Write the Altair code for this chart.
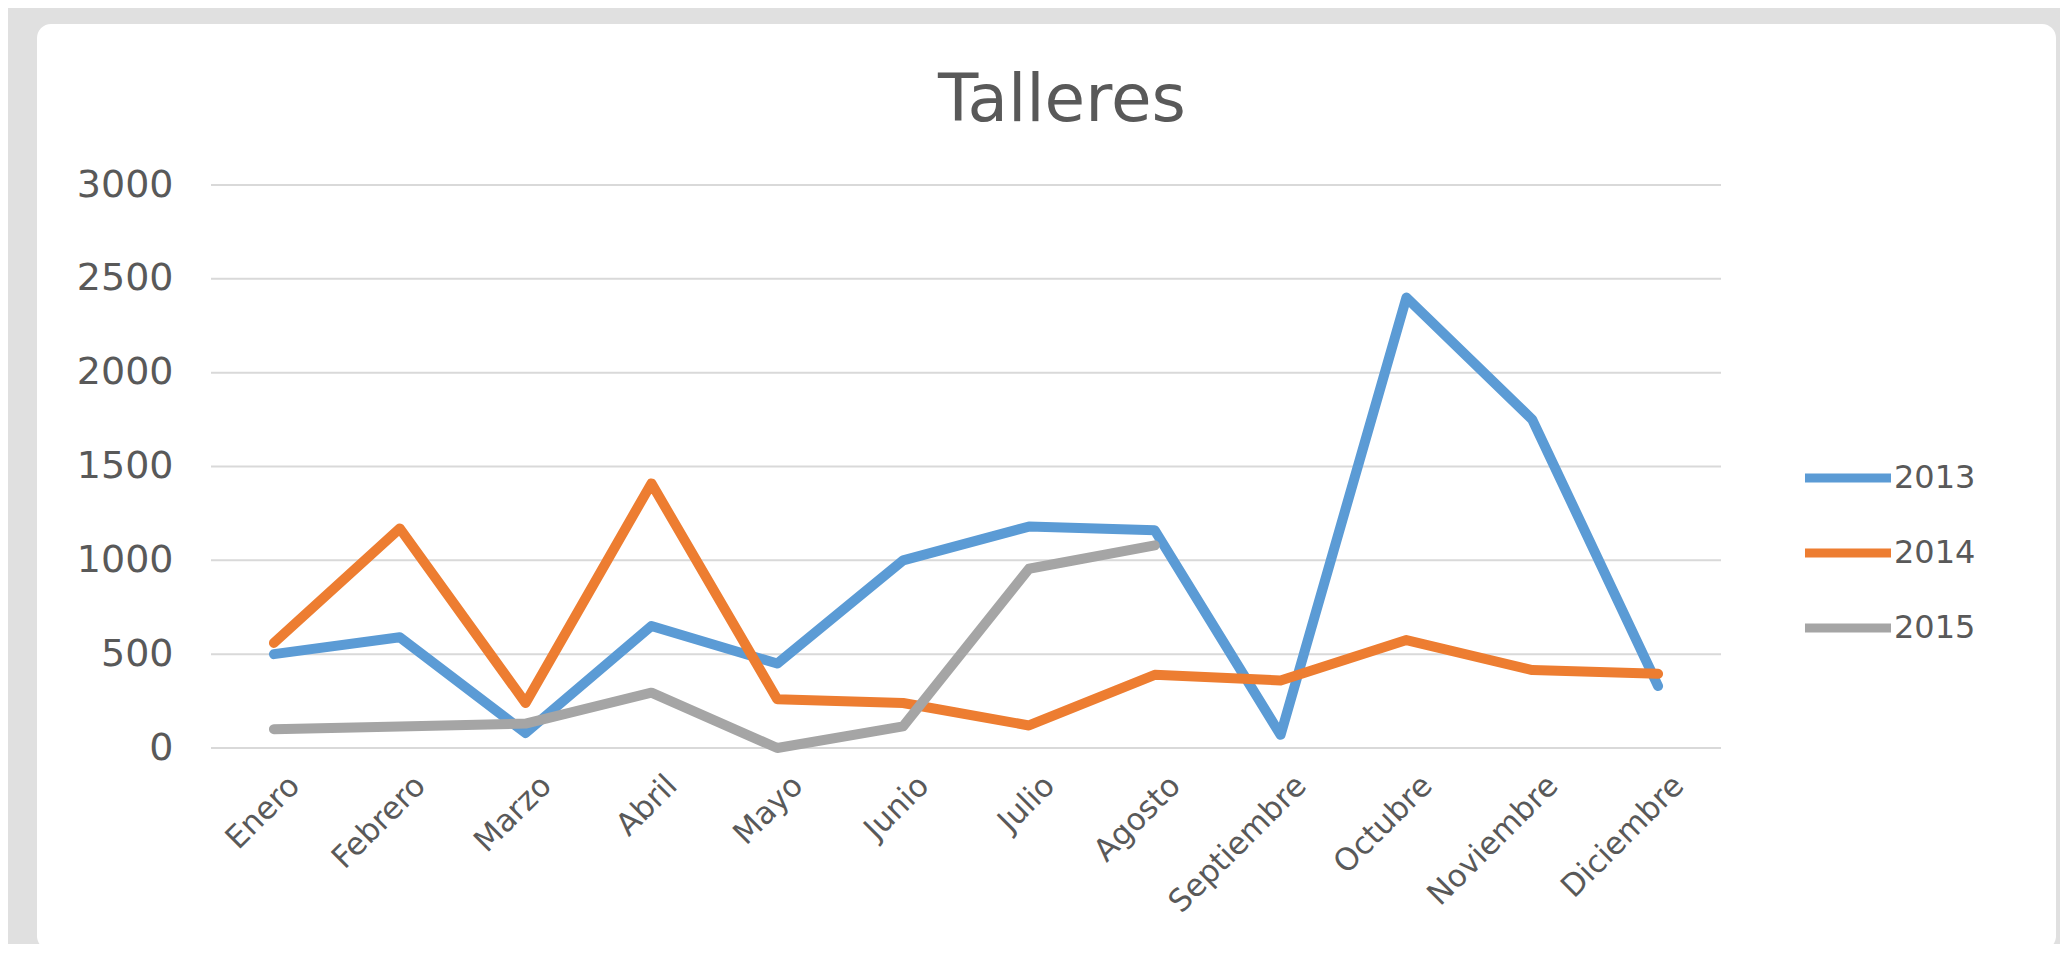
import altair as alt
import pandas as pd

months = ["Enero", "Febrero", "Marzo", "Abril", "Mayo", "Junio", "Julio",
          "Agosto", "Septiembre", "Octubre", "Noviembre", "Diciembre"]
years = ["2013", "2014", "2015"]
v2013 = [500, 590, 80, 650, 450, 1000, 1180, 1160, 70, 2400, 1750, 330]
v2014 = [560, 1170, 240, 1410, 260, 240, 120, 390, 360, 575, 415, 395]
v2015 = [100, 115, 130, 295, 0, 115, 955, 1080]
y_ticks = [0, 500, 1000, 1500, 2000, 2500, 3000]
colors = ["#5b9bd5", "#ed7d31", "#a5a5a5"]

rows = []
for yr, vals in zip(years, [v2013, v2014, v2015]):
    for m, v in zip(months, vals):
        rows.append({"mes": m, "anio": yr, "valor": v})
df = pd.DataFrame(rows)

W, H = 1510, 563
PL, PT = 203, 177
PR = 2052 - PL - W
PB = 936 - PT - H
FONT = "DejaVu Sans"
TXT = "#595959"

yscale = alt.Scale(domain=[0, 3000], nice=False)
yaxis = alt.Axis(title=None, values=y_ticks, format="d", grid=False, ticks=False,
                 domain=False, labelFontSize=38, labelColor=TXT,
                 labelPadding=38, labelFont=FONT, zindex=1)

card = alt.Chart(pd.DataFrame({"c": [0]})).mark_rect(
    color="white", cornerRadius=14
).encode(
    x=alt.value(-174), x2=alt.value(1845), y=alt.value(-161), y2=alt.value(765)
)

grid = alt.Chart(pd.DataFrame({"valor": y_ticks})).mark_rule(
    color="#d9d9d9", strokeWidth=2
).encode(y=alt.Y("valor:Q", scale=yscale, axis=yaxis))

lines = alt.Chart(df).mark_line(
    strokeWidth=10, strokeJoin="round", strokeCap="round"
).encode(
    x=alt.X("mes:N", sort=months, scale=alt.Scale(padding=0.5),
            axis=alt.Axis(title=None, labelAngle=-45, labelAlign="right",
                          labelBaseline="top", labelFontSize=31, labelColor=TXT,
                          labelFont=FONT, labelPadding=22, labelLimit=0,
                          labelOffset=10,
                          ticks=False, domain=False, grid=False, zindex=1)),
    y=alt.Y("valor:Q", scale=yscale, axis=yaxis),
    color=alt.Color("anio:N", scale=alt.Scale(domain=years, range=colors),
                    legend=alt.Legend(title=None, orient="none", legendX=1618,
                                      legendY=274, symbolType="M-3,0H3",
                                      symbolSize=822, symbolStrokeWidth=9,
                                      labelFontSize=32, labelColor=TXT,
                                      labelFont=FONT, labelOffset=27,
                                      rowPadding=38, zindex=1)),
)

chart = alt.layer(card, grid, lines).properties(
    width=W, height=H,
    autosize=alt.AutoSizeParams(type="none"),
    padding={"left": PL, "top": PT, "right": PR, "bottom": PB},
    background="#e0e0e0",
    title=alt.TitleParams("Talleres", fontSize=66, font=FONT, color=TXT,
                          fontWeight="normal", anchor="middle", frame="group",
                          dx=96, baseline="alphabetic", offset=-163),
).configure_view(stroke=None).configure_legend(
    labelFontSize=32, labelFont=FONT, labelColor=TXT
)

chart.save("out.html", embed_options={"renderer": "svg", "actions": False})
